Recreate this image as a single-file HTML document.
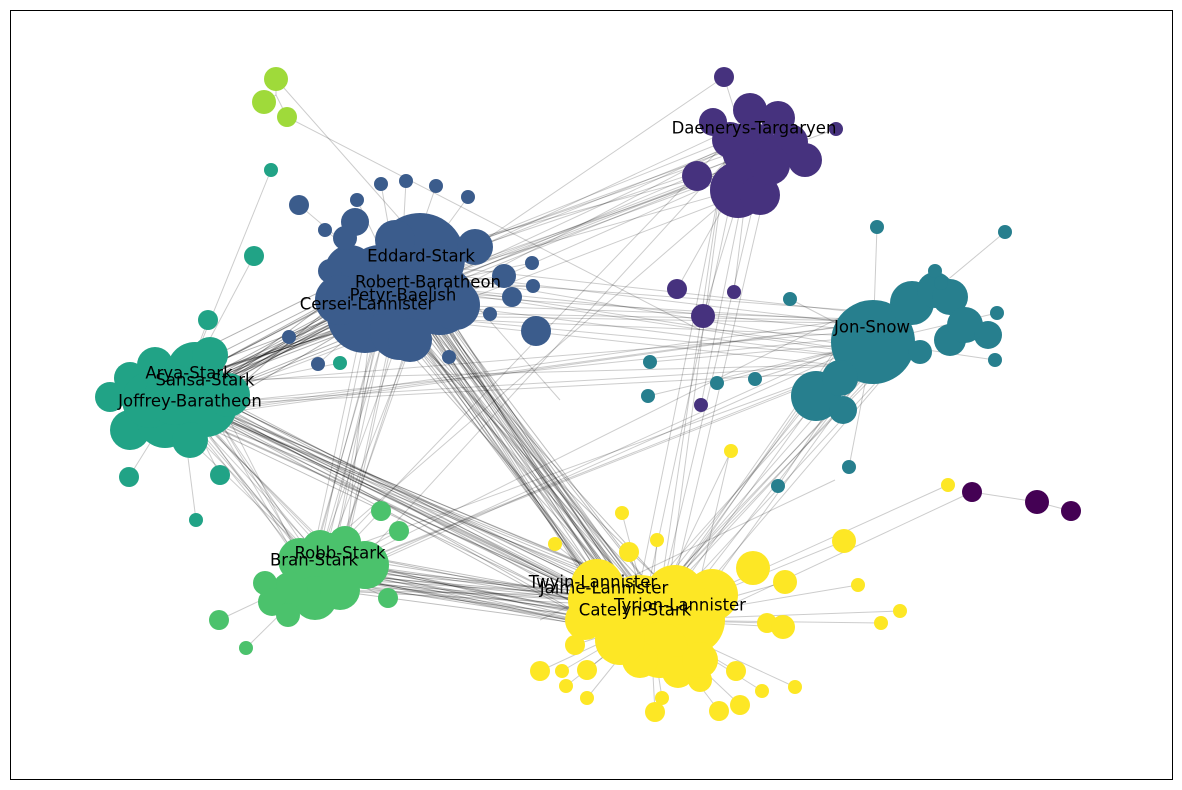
<!DOCTYPE html>
<html><head><meta charset="utf-8"><style>
html,body{margin:0;padding:0;background:#fff;width:1182px;height:790px;overflow:hidden}
svg text{font-family:"DejaVu Sans","Liberation Sans",sans-serif;font-size:16.5px;fill:#000;text-anchor:middle;dominant-baseline:middle}
</style></head><body>
<svg id="s" width="1182" height="790" xmlns="http://www.w3.org/2000/svg">
<g id="e"></g><g id="n"></g>
<rect x="10.5" y="10.5" width="1162" height="769" fill="none" stroke="#000" stroke-width="1"/>
<text x="421" y="257">Eddard-Stark</text>
<text x="428" y="283">Robert-Baratheon</text>
<text x="403" y="296">Petyr-Baelish</text>
<text x="367" y="305">Cersei-Lannister</text>
<text x="754" y="129">Daenerys-Targaryen</text>
<text x="872" y="328">Jon-Snow</text>
<text x="189" y="374">Arya-Stark</text>
<text x="205" y="381">Sansa-Stark</text>
<text x="190" y="402">Joffrey-Baratheon</text>
<text x="340" y="554">Robb-Stark</text>
<text x="314" y="561">Bran-Stark</text>
<text x="593" y="583">Twyin-Lannister</text>
<text x="604" y="589">Jaime-Lannister</text>
<text x="680" y="606">Tyrion-Lannister</text>
<text x="635" y="611">Catelyn-Stark</text>
</svg>
<script>
var C={bl:"#3b5c8c",ar:"#21a386",rb:"#4bc26c",li:"#9fda3a",dt:"#46327e",js:"#277f8e",ye:"#fde725",dp:"#440154"};
var N=[
["bl",420,258,45],["bl",365,315,38],["bl",400,330,30],["bl",440,300,35],["bl",380,280,35],["bl",350,270,25],["bl",475,247,18],["bl",330,271,12],["bl",355,222,14],["bl",345,238,12],["bl",455,305,25],["bl",410,340,22],["bl",340,300,25],["bl",395,240,20],
["bl",299,205,10],["bl",325,230,7],["bl",357,200,7],["bl",381,184,7],["bl",406,181,7],["bl",436,186,7],["bl",468,197,7],["bl",504,276,12],["bl",512,297,10],["bl",532,263,7],["bl",533,286,7],["bl",490,314,7],["bl",536,331,15],["bl",449,357,7],["bl",318,364,7],["bl",289,337,7],
["ar",195,370,28],["ar",155,365,18],["ar",130,378,16],["ar",110,397,15],["ar",130,430,20],["ar",165,420,28],["ar",205,405,32],["ar",228,395,22],["ar",190,440,18],["ar",150,400,28],["ar",175,395,30],["ar",210,355,18],
["ar",271,170,7],["ar",254,256,10],["ar",208,320,10],["ar",340,363,7],["ar",129,477,10],["ar",220,475,10],["ar",196,520,7],
["rb",330,565,32],["rb",300,560,22],["rb",345,542,16],["rb",365,565,24],["rb",315,598,22],["rb",290,590,18],["rb",265,583,12],["rb",272,602,14],["rb",288,615,12],["rb",340,590,20],["rb",320,548,18],
["rb",381,511,10],["rb",399,531,10],["rb",388,598,10],["rb",219,620,10],["rb",246,648,7],
["li",276,79,12],["li",264,102,12],["li",287,117,10],
["dt",750,150,28],["dt",738,190,28],["dt",760,195,20],["dt",713,122,14],["dt",750,110,17],["dt",778,118,17],["dt",805,160,17],["dt",697,176,15],["dt",790,142,18],["dt",770,165,20],["dt",730,140,18],["dt",724,77,10],["dt",836,129,7],
["dt",677,289,10],["dt",703,316,12],["dt",734,292,7],["dt",701,405,7],
["js",873,342,42],["js",912,303,22],["js",935,290,18],["js",950,297,18],["js",950,340,16],["js",965,325,18],["js",988,335,14],["js",920,352,12],["js",816,396,25],["js",840,378,18],["js",843,410,14],
["js",877,227,7],["js",1005,232,7],["js",935,271,7],["js",941,283,7],["js",997,313,7],["js",995,360,7],["js",790,299,7],["js",755,379,7],["js",717,383,7],["js",650,362,7],["js",648,396,7],["js",849,467,7],["js",778,486,7],
["ye",640,620,45],["ye",600,600,32],["ye",690,620,35],["ye",712,595,26],["ye",660,650,28],["ye",640,660,18],["ye",678,672,16],["ye",700,680,12],["ye",700,660,18],["ye",597,585,26],["ye",620,640,25],["ye",675,595,30],["ye",585,620,20],
["ye",575,645,10],["ye",731,451,7],["ye",622,513,7],["ye",657,540,7],["ye",555,544,7],["ye",629,552,10],["ye",753,568,17],["ye",785,582,12],["ye",767,623,10],["ye",783,627,12],["ye",844,541,12],["ye",858,585,7],["ye",881,623,7],["ye",900,611,7],["ye",948,485,7],["ye",540,671,10],["ye",562,671,7],["ye",566,686,7],["ye",587,670,10],["ye",587,698,7],["ye",655,712,10],["ye",662,698,7],["ye",719,711,10],["ye",740,705,10],["ye",736,671,10],["ye",762,691,7],["ye",795,687,7],
["dp",972,492,10],["dp",1037,502,12],["dp",1071,511,10]];
var ctr={bl:[400,290],ar:[180,395],rb:[325,570],li:[276,95],dt:[750,160],js:[873,342],ye:[650,620],dp:[1037,502]};
var eg=document.getElementById("e"),ng=document.getElementById("n"),ns="http://www.w3.org/2000/svg";
function L(a,b,c,d,o){var l=document.createElementNS(ns,"line");l.setAttribute("x1",a);l.setAttribute("y1",b);l.setAttribute("x2",c);l.setAttribute("y2",d);l.setAttribute("stroke","rgba(0,0,0,"+(o||0.2)+")");l.setAttribute("stroke-width","1");eg.appendChild(l);}
N.forEach(function(n){if(n[3]<=12){var c=ctr[n[0]];L(n[1],n[2],c[0],c[1]);}});
var seed=7;function r(){seed=(seed*9301+49297)%233280;return seed/233280;}
function B(a,b,k,spA,spB,o){for(var i=0;i<k;i++){var A=ctr[a],Bb=ctr[b];L(A[0]+(r()-.5)*spA,A[1]+(r()-.5)*spA,Bb[0]+(r()-.5)*spB,Bb[1]+(r()-.5)*spB,o);}}
B("bl","ar",30,60,50,0.3);B("bl","ye",40,60,60,0.25);B("ar","ye",25,40,60,0.25);B("rb","ye",30,40,50,0.25);B("bl","rb",15,60,40);B("ar","rb",15,50,40);
B("bl","js",15,60,60);B("bl","dt",15,60,60);B("ar","js",8,50,60);B("js","ye",15,60,50);B("dt","ye",6,50,50);B("rb","js",6,40,60);B("ar","dt",4,40,50);B("rb","dt",3,40,50);
L(287,117,700,330);L(276,79,560,400);L(724,77,470,250);L(835,480,540,620);L(730,451,700,580);L(972,492,720,610);
N.forEach(function(n){var c=document.createElementNS(ns,"circle");c.setAttribute("cx",n[1]);c.setAttribute("cy",n[2]);c.setAttribute("r",n[3]);c.setAttribute("fill",C[n[0]]);ng.appendChild(c);});
</script>
</body></html>
